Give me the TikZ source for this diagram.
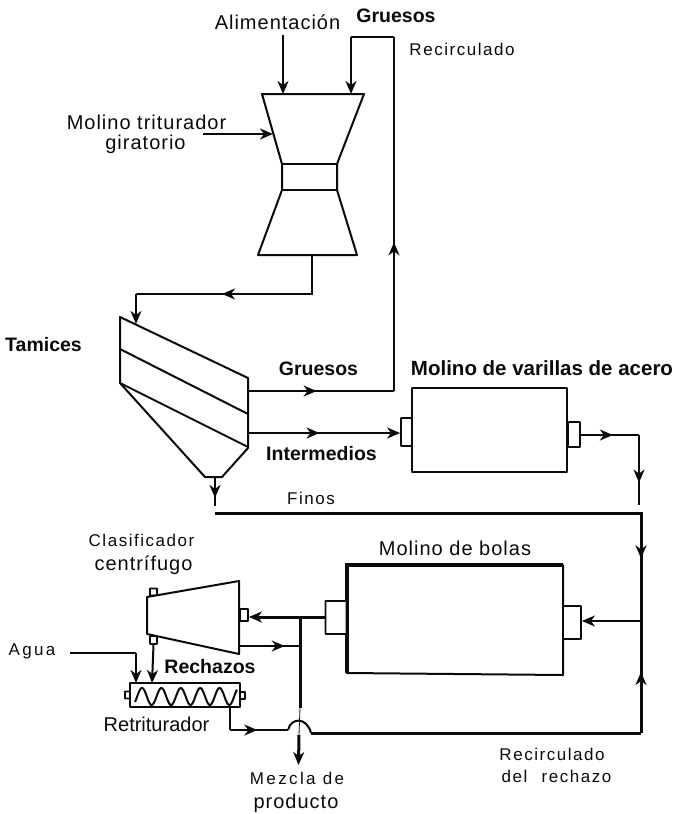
\documentclass[tikz,border=0pt]{standalone}
\usepackage{fontspec}
\setmainfont{Liberation Sans}
\newfontfamily\spacedfont[LetterSpace=9]{Liberation Sans}
\newfontfamily\loosefont[LetterSpace=5]{Liberation Sans}
\newfontfamily\widefont[LetterSpace=14]{Liberation Sans}
\usepackage{xcolor}
\usetikzlibrary{
  arrows.meta,
  positioning,
  decorations.markings
}
\definecolor{inkblack}{RGB}{10, 10, 10}
\tikzset{
  wall/.style={draw=inkblack,line width=2pt,line join=round},
  heavywall/.style={draw=inkblack,line width=4.5pt},
  stubbox/.style={draw=inkblack,line width=1.8pt,fill=white,inner sep=0pt,rounded corners=0.5pt},
  pipe/.style={draw=inkblack,line width=2pt},
  heavypipe/.style={draw=inkblack,line width=3pt},
  tipped/.style={-{Stealth[length=13pt,width=11pt,inset=4pt]}},
  midtip/.style={postaction={decorate},decoration={markings,
    mark=at position #1 with {\arrow{Stealth[length=13pt,width=11pt,inset=4pt]}}}},
  plainlab/.style={text=inkblack,inner sep=0pt,font=\fontsize{20}{20}\selectfont\loosefont},
  spacelab/.style={text=inkblack,inner sep=0pt,font=\fontsize{17}{20}\selectfont\spacedfont},
  widelab/.style={text=inkblack,inner sep=0pt,font=\fontsize{17}{20}\selectfont\widefont},
  boldlab/.style={text=inkblack,inner sep=0pt,font=\fontsize{19.5}{22}\selectfont\bfseries}
}
\begin{document}
\begin{tikzpicture}[x=1pt,y=-1pt]
\useasboundingbox (0,0) rectangle (674,814);
% labels
\node[plainlab](alim) at (277.5,22) {Alimentación};
\node[boldlab](gr1) at (396,16) {Gruesos};
\node[spacelab](rec1) at (462,49) {Recirculado};
\node[plainlab](moltri) at (146.5,122) {Molino triturador};
\node[plainlab](molgir) at (145.5,144) {giratorio};
\node[boldlab](tam) at (43.5,345) {Tamices};
\node[boldlab](gr2) at (318.5,369) {Gruesos};
\node[boldlab,font=\fontsize{20.5}{22}\selectfont\bfseries](molvar) at (542,368) {Molino de varillas de acero};
\node[boldlab](inter) at (321.5,454) {Intermedios};
\node[spacelab](finos) at (311,498) {Finos};
\node[plainlab](molbol) at (455,548) {Molino de bolas};
\node[spacelab](clasif) at (141.5,540) {Clasificador};
\node[plainlab](centr) at (143.5,565) {centrífugo};
\node[boldlab](rech) at (210,667) {Rechazos};
\node[text=inkblack,inner sep=0pt,font=\fontsize{20}{20}\selectfont](retri) at (156.5,724) {Retriturador};
\node[widelab](agua) at (32,651) {Agua};
\node[widelab](mezcla) at (297,778) {Mezcla de};
\node[plainlab](prodc) at (296,803) {producto};
\node[spacelab](rec2) at (552,754) {Recirculado};
\node[spacelab](rec3) at (556.5,776) {del\hspace{8pt} rechazo};
% molino giratorio
\draw[wall] (262,94) coordinate (crTL) -- (364,94) coordinate (crTR) -- (337,164) coordinate (crNR)
  -- (337,190) -- (357,255) coordinate (crBR) -- (258,255) coordinate (crBL) -- (282,190)
  -- (282,164) coordinate (crNL) -- cycle;
\draw[wall] (crNL) -- (crNR);
\draw[wall] (282,190) -- (337,190);
% tamices
\draw[wall] (120,317) coordinate (tmA) -- (248,378) coordinate (tmB) -- (248,448) coordinate (tmC)
  -- (222,477) coordinate (tmD) -- (205,477) coordinate (tmE) -- (120,383) coordinate (tmF) -- cycle;
\draw[wall] (120,349) -- (248,414);
\draw[wall] (tmF) -- (248,447);
% molino de varillas
\node[wall,inner sep=0pt,minimum width=155pt,minimum height=84pt](rod) at (489.5,430) {};
\node[stubbox,minimum width=11pt,minimum height=28pt](rodin) at (406.5,432) {};
\node[stubbox,minimum width=12pt,minimum height=25pt](rodout) at (574,434.5) {};
% molino de bolas
\draw[wall] (347,565) coordinate (blTL) -- (563,565) coordinate (blTR) -- (563,675) coordinate (blBR)
  -- (347,673) coordinate (blBL) -- cycle;
\draw[heavywall] (blBL) -- (blTL) -- (blTR);
\node[stubbox,minimum width=21pt,minimum height=33pt](ballin) at (336,617.5) {};
\node[stubbox,minimum width=18pt,minimum height=33pt](ballout) at (572,622.5) {};
% clasificador
\node[stubbox,minimum width=7pt,minimum height=7pt](clup) at (153.5,592) {};
\node[stubbox,minimum width=7pt,minimum height=8pt](cldn) at (153.5,640) {};
\node[stubbox,minimum width=8pt,minimum height=12pt](clout) at (244,615) {};
\draw[wall,fill=white] (147,597) coordinate (clTL) -- (239,581) coordinate (clTR)
  -- (239,654) coordinate (clBR) -- (147,634) coordinate (clBL) -- cycle;
% retriturador
\node[stubbox,minimum width=5pt,minimum height=7pt](rtL) at (127.5,695) {};
\node[stubbox,minimum width=5pt,minimum height=7pt](rtR) at (242.5,695.5) {};
\node[wall,inner sep=0pt,minimum width=110pt,minimum height=24pt](rt) at (185,695) {};
\draw[wall] plot[domain=135:237,samples=120,smooth] (\x,{696.5-8.5*cos((\x-142)*18.557)});
% flujos superiores
\coordinate (alimS) at (283,35);
\coordinate (crIn) at (283,94);
\draw[pipe,tipped] (alimS) -- (crIn);
\coordinate (molS) at (203,134);
\coordinate (molE) at (273,134);
\draw[pipe,tipped] (molS) -- (molE);
\coordinate (recIn) at (351,94);
\coordinate (recA) at (351,37);
\coordinate (recB) at (394,37);
\coordinate (recC) at (394,391);
\coordinate (scrOut1) at (248,391);
\draw[pipe,tipped] (recA) -- (recIn);
\draw[pipe] (recA) -- (recB);
\draw[pipe,midtip=0.42] (recC) -- (recB);
\draw[pipe,midtip=0.47] (scrOut1) -- (recC);
\coordinate (crOut) at (312,255);
\coordinate (crB) at (312,294);
\coordinate (crC) at (136,294);
\coordinate (scrIn) at (136,324);
\draw[pipe,midtip=0.6] (crOut) -- (crB) -- (crC);
\draw[pipe,tipped] (crC) -- (scrIn);
\coordinate (scrOut2) at (248,433);
\draw[pipe,midtip=0.47,tipped] (scrOut2) -- (rodin.west |- scrOut2);
\coordinate (hop) at (215,477);
\coordinate (hopE) at (215,506);
\draw[pipe,midtip=0.72] (hop) -- (hopE);
% molino varillas a finos
\coordinate (rodA) at (639,435);
\coordinate (rodB) at (639,505);
\draw[pipe,midtip=0.55] (rodout.east |- rodA) -- (rodA);
\draw[pipe,midtip=0.68] (rodA) -- (rodB);
\coordinate (finL) at (215,513);
\coordinate (finR) at (643,513);
\coordinate (ballJ) at (641,621);
\coordinate (retB) at (641,733);
\draw[heavypipe] (finL) -- (finR);
\draw[heavypipe,midtip=0.42] (finR -| ballJ) -- (ballJ);
\draw[heavypipe,midtip=0.545] (retB) -- (ballJ);
\draw[pipe,tipped] (ballJ) -- (ballout.east |- ballJ);
% clasificador y retriturador
\coordinate (junA) at (300,617);
\coordinate (junB) at (300,646);
\coordinate (bumpL) at (288,730);
\coordinate (bumpR) at (311,733);
\coordinate (prod) at (298.5,765);
\coordinate (junC) at (300,708);
\coordinate (junD) at (299,735);
\draw[heavypipe] (ballin.west |- junA) -- (junA);
\draw[heavypipe,tipped] (junA) -- (clout.east |- junA);
\draw[pipe,midtip=0.75] (clBR |- junB) -- (junB);
\draw[heavypipe] (junA) -- (junC);
\draw[draw=inkblack,line width=0.8pt] (junC) -- (junD);
\draw[heavypipe,tipped] (junD) -- (prod);
\coordinate (rtIn) at (152,683);
\draw[pipe,tipped] (cldn.south) -- (rtIn);
\coordinate (aguaS) at (70,653);
\coordinate (aguaC) at (136,653);
\coordinate (aguaE) at (136,683);
\draw[pipe] (aguaS) -- (aguaC);
\draw[pipe,tipped] (aguaC) -- (aguaE);
\coordinate (rtOut) at (230,707);
\coordinate (rtC) at (230,730);
\draw[pipe] (rtOut) -- (rtC);
\draw[pipe,midtip=0.47] (rtC) -- (bumpL);
\draw[pipe] (bumpL) .. controls (291,717) and (307,717) .. (bumpR);
\draw[heavypipe] (bumpR) -- (retB);
\end{tikzpicture}
\end{document}
